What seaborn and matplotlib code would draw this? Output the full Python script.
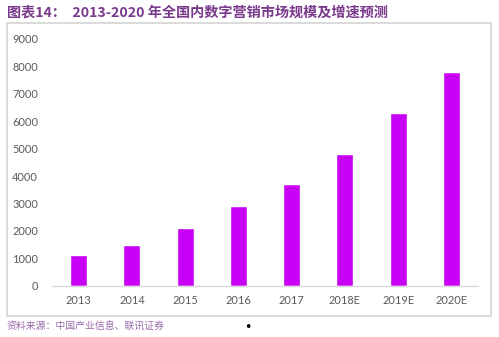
import matplotlib
matplotlib.use("Agg")
import matplotlib.pyplot as plt
import seaborn as sns
import pandas as pd
from matplotlib.patches import Rectangle

years = ["2013", "2014", "2015", "2016", "2017", "2018E", "2019E", "2020E"]
market_size = [1110, 1500, 2120, 2900, 3700, 4800, 6290, 7790]
y_ticks = [0, 1000, 2000, 3000, 4000, 5000, 6000, 7000, 8000, 9000]

title_text = "图表14：  2013-2020 年全国内数字营销市场规模及增速预测"
source_text = "资料来源：中国产业信息、联讯证券"

sns.set_theme(style="white")
plt.rcParams["font.family"] = ["Noto Sans CJK SC", "DejaVu Sans"]

df = pd.DataFrame({"year": years, "size": market_size})

W, H = 499, 337
fig = plt.figure(figsize=(W / 100, H / 100), dpi=100)

# outer frame around the chart area
fig.patches.append(Rectangle((7 / W, 1 - 316 / H), 484 / W, 293 / H,
                             transform=fig.transFigure, fill=False,
                             edgecolor="#d4d4d4", linewidth=1.2))

ax = fig.add_axes([52 / W, 1 - 285.7 / H, 426 / W, (285.7 - 39) / H])
sns.barplot(data=df, x="year", y="size", color="#c800f5", saturation=1,
            width=0.32, ax=ax)

ax.set_ylim(0, 9000)
ax.set_xlim(-0.5, len(years) - 0.5)
ax.set_yticks(y_ticks)
ax.set_yticklabels([str(v) for v in y_ticks])
ax.set_xlabel("")
ax.set_ylabel("")
for s in ["top", "right", "left"]:
    ax.spines[s].set_visible(False)
ax.spines["bottom"].set_color("#d9d9d9")
ax.spines["bottom"].set_linewidth(1.0)
ax.tick_params(axis="both", length=0, labelsize=7.9, labelcolor="#595959")
for lab in ax.get_xticklabels() + ax.get_yticklabels():
    lab.set_fontfamily(["Lato", "DejaVu Sans"])
ax.tick_params(axis="x", pad=7)
ax.tick_params(axis="y", pad=10)

fig.text(7 / W, 1 - 12 / H, title_text, ha="left", va="center",
         fontsize=10.2, fontweight="bold", color="#7a3a8c")
fig.text(7 / W, 1 - 327 / H, source_text, ha="left", va="center",
         fontsize=7.1, color="#9a6aaa", style="italic")
fig.text(248 / W, 1 - 328 / H, "•", ha="center", va="center",
         fontsize=9, color="black", family="DejaVu Sans")

fig.savefig("out.png", dpi=100)
